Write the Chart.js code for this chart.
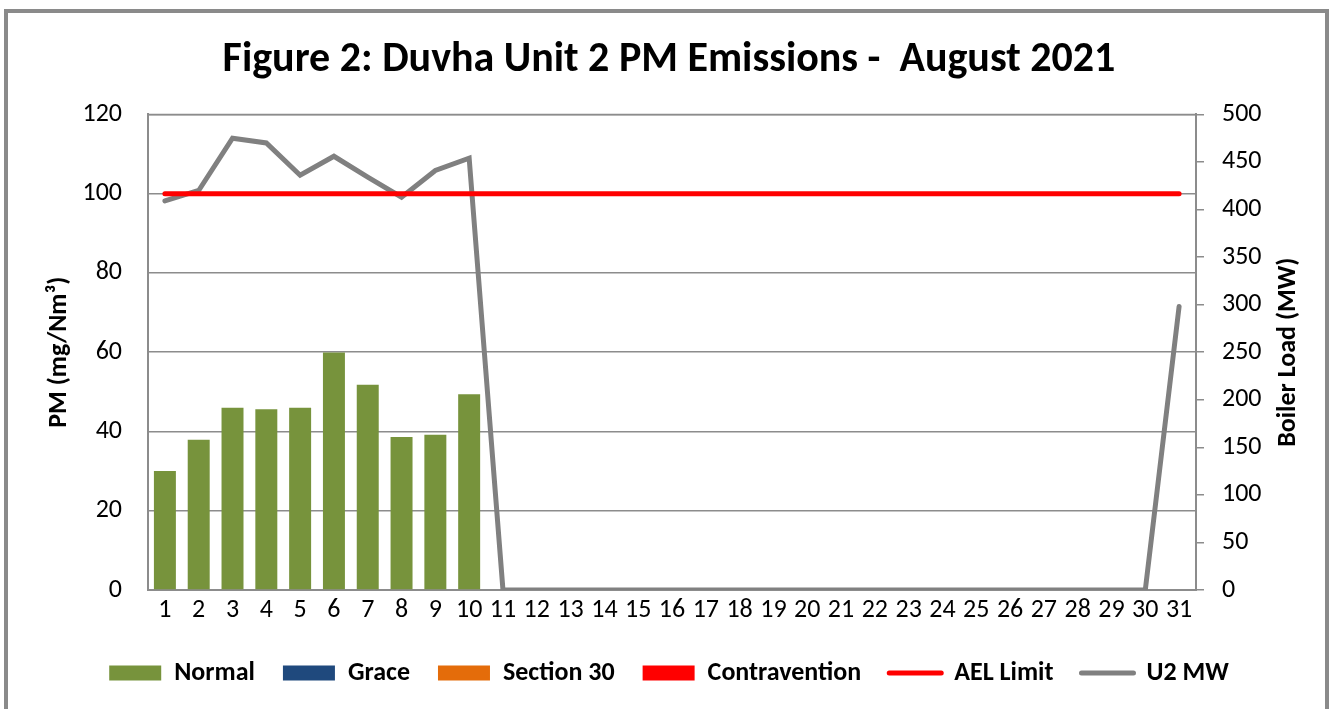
<!DOCTYPE html>
<html>
<head>
<meta charset="utf-8">
<script src="https://cdn.jsdelivr.net/npm/chart.js@4/dist/chart.umd.min.js"></script>
<style>
  html, body { margin: 0; padding: 0; background: #fff; }
  #wrap { position: relative; width: 1338px; height: 709px; overflow: hidden; }
  #frame { position: absolute; left: 4px; top: 9px; width: 1325px; height: 720px; border: 4px solid #8a8a8a; box-sizing: border-box; pointer-events: none; }
  canvas { position: absolute; left: 0; top: 0; }
</style>
</head>
<body>
<div id="wrap">
  <canvas id="c" width="1338" height="709"></canvas>
  <div id="frame"></div>
</div>
<script>
const days = ['1','2','3','4','5','6','7','8','9','10','11','12','13','14','15','16','17','18','19','20','21','22','23','24','25','26','27','28','29','30','31'];
const normalPM = [30, 37.9, 46, 45.6, 46, 59.9, 51.8, 38.6, 39.2, 49.4];
const gracePM = [];
const section30PM = [];
const contraventionPM = [];
const aelLimit = [100,100,100,100,100,100,100,100,100,100,100,100,100,100,100,100,100,100,100,100,100,100,100,100,100,100,100,100,100,100,100];
const u2MW = [409, 420, 475, 470, 436, 456, 434, 413, 441, 454, 0,0,0,0,0,0,0,0,0,0,0,0,0,0,0,0,0,0,0,0, 298];
const leftTicks = [0, 20, 40, 60, 80, 100, 120];
const rightTicks = [0, 50, 100, 150, 200, 250, 300, 350, 400, 450, 500];
const rightTitle = 'Boiler Load (MW)';

const FONT = 'Carlito, Lato, "Open Sans", sans-serif';
const GRID = '#8c8c8c';

new Chart(document.getElementById('c'), {
  type: 'bar',
  data: {
    labels: days,
    datasets: [
      { label: 'Normal', data: normalPM, backgroundColor: '#77933C', yAxisID: 'y', barPercentage: 0.65, categoryPercentage: 1 },
      { label: 'Grace', data: gracePM, backgroundColor: '#1F497D', yAxisID: 'y', barPercentage: 0.65, categoryPercentage: 1 },
      { label: 'Section 30', data: section30PM, backgroundColor: '#E46C0A', yAxisID: 'y', barPercentage: 0.65, categoryPercentage: 1 },
      { label: 'Contravention', data: contraventionPM, backgroundColor: '#FF0000', yAxisID: 'y', barPercentage: 0.65, categoryPercentage: 1 },
      { type: 'line', label: 'AEL Limit', data: aelLimit, borderColor: '#FF0000', backgroundColor: '#FF0000', borderWidth: 5, pointRadius: 0, tension: 0, borderCapStyle: 'round', yAxisID: 'y' },
      { type: 'line', label: 'U2 MW', data: u2MW, borderColor: '#808080', backgroundColor: '#808080', borderWidth: 5, pointRadius: 0, tension: 0, borderCapStyle: 'round', yAxisID: 'y1' }
    ]
  },
  options: {
    responsive: false,
    animation: false,
    devicePixelRatio: 1,
    layout: { padding: { left: 0, right: 0, top: 0, bottom: 13 } },
    plugins: {
      tooltip: { enabled: false },
      title: {
        display: true,
        text: 'Figure 2: Duvha Unit 2 PM Emissions -  August 2021',
        color: '#000',
        font: { family: FONT, size: 42, weight: 'bold' },
        padding: { top: 35, bottom: 29 }
      },
      legend: {
        position: 'bottom',
        labels: {
          color: '#000',
          font: { family: FONT, size: 26, weight: 'bold' },
          usePointStyle: true,
          pointStyleWidth: 52,
          boxHeight: 15,
          padding: 28,
          generateLabels: (chart) => {
            const items = Chart.defaults.plugins.legend.labels.generateLabels(chart);
            items.forEach((it) => {
              const ds = chart.data.datasets[it.datasetIndex];
              if (ds.type === 'line') {
                it.pointStyle = 'line';
                it.lineWidth = 5;
                it.strokeStyle = ds.borderColor;
                it.lineCap = 'round';
              } else {
                it.pointStyle = 'rect';
                it.lineWidth = 0;
                it.fillStyle = ds.backgroundColor;
                it.strokeStyle = ds.backgroundColor;
              }
            });
            return items;
          }
        }
      }
    },
    scales: {
      x: {
        stacked: true,
        offset: true,
        grid: { display: false, drawTicks: false },
        border: { display: true, color: GRID, width: 2 },
        ticks: { color: '#000', font: { family: FONT, size: 26 }, padding: 5, maxRotation: 0, autoSkip: false },
        afterFit: (s) => { s.height = 42; }
      },
      y: {
        position: 'left',
        min: 0, max: 120,
        afterBuildTicks: (s) => { s.ticks = leftTicks.map(v => ({ value: v })); },
        grid: { color: GRID, lineWidth: 1.5, drawTicks: false },
        border: { display: true, color: GRID, width: 2 },
        ticks: { color: '#000', font: { family: FONT, size: 26 }, padding: 26 },
        title: { display: true, text: 'PM (mg/Nm³)', color: '#000', font: { family: FONT, size: 26, weight: 'bold' }, padding: { top: 44, bottom: 0 } },
        afterFit: (s) => { s.width = 148; }
      },
      y1: {
        position: 'right',
        min: 0, max: 500,
        afterBuildTicks: (s) => { s.ticks = rightTicks.map(v => ({ value: v })); },
        grid: { drawOnChartArea: false, drawTicks: true, tickLength: 8, color: GRID, lineWidth: 1.5 },
        border: { display: true, color: GRID, width: 2 },
        ticks: { color: '#000', font: { family: FONT, size: 26 }, padding: 18 },
        title: { display: false },
        afterFit: (s) => { s.width = 142; }
      }
    }
  },
  plugins: [{
    id: 'extras',
    afterDatasetsDraw(chart) {
      const { ctx, chartArea } = chart;
      ctx.save();
      ctx.strokeStyle = GRID;
      ctx.lineWidth = 1.5;
      ctx.beginPath();
      ctx.moveTo(chartArea.left, chartArea.top);
      ctx.lineTo(chartArea.right, chartArea.top);
      ctx.stroke();
      ctx.restore();
    },
    afterDraw(chart) {
      const { ctx, chartArea } = chart;
      const s = chart.scales.y1;
      ctx.save();
      ctx.translate(s.right - 50, (chartArea.top + chartArea.bottom) / 2);
      ctx.rotate(-Math.PI / 2);
      ctx.fillStyle = '#000';
      ctx.font = 'bold 26px ' + FONT;
      ctx.textAlign = 'center';
      ctx.textBaseline = 'middle';
      ctx.fillText(rightTitle, 0, 0);
      ctx.restore();
    }
  }]
});
</script>
</body>
</html>
